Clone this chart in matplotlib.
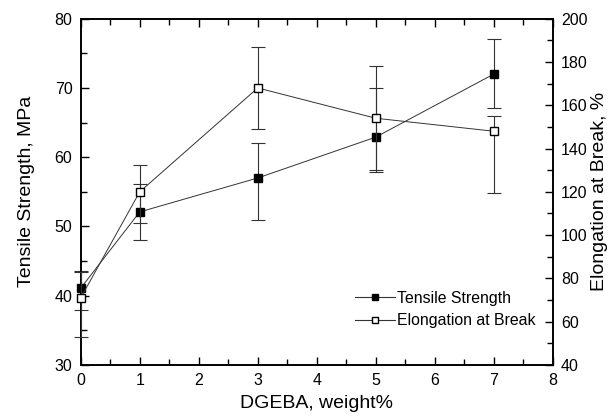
import matplotlib
matplotlib.use('Agg')
from matplotlib import pyplot as plt
from matplotlib.lines import Line2D
from matplotlib.ticker import MultipleLocator

plt.rcParams['font.family'] = ['Liberation Sans', 'DejaVu Sans']

# DGEBA content, weight%
dgeba = [0, 1, 3, 5, 7]

# tensile strength, MPa (left axis)
tensile = [41.1, 52.1, 57.0, 62.9, 72.0]
tensile_lo = [3.1, 4.0, 6.0, 5.0, 4.9]
tensile_hi = [2.4, 4.0, 5.0, 7.1, 5.0]

# elongation at break, % (right axis)
elong = [71, 120, 168, 154, 148]
elong_lo = [18, 14.5, 19, 24, 28.7]
elong_hi = [12, 12.5, 19, 24, 7]

fig = plt.figure(figsize=(6.13, 4.2), dpi=100)
ax = fig.add_axes([0.1317, 0.131, 0.77, 0.8245])
ax2 = ax.twinx()

lc = '#333333'
ax.errorbar(dgeba, tensile, yerr=[tensile_lo, tensile_hi], color=lc, lw=0.7,
            elinewidth=0.8, capsize=5, capthick=0.8, marker='s', ms=6,
            mfc='black', mec='black', clip_on=False, zorder=3)
ax2.errorbar(dgeba, elong, yerr=[elong_lo, elong_hi], color=lc, lw=0.7,
             elinewidth=0.8, capsize=5, capthick=0.8, marker='s', ms=6,
             mfc='white', mec='black', clip_on=False, zorder=3)

ax.set_xlim(0, 8)
ax.set_ylim(30, 80)
ax2.set_ylim(40, 200)
ax.xaxis.set_major_locator(MultipleLocator(1))
ax.xaxis.set_minor_locator(MultipleLocator(0.5))
ax.yaxis.set_major_locator(MultipleLocator(10))
ax.yaxis.set_minor_locator(MultipleLocator(5))
ax2.yaxis.set_major_locator(MultipleLocator(20))
ax2.yaxis.set_minor_locator(MultipleLocator(10))

for a in (ax, ax2):
    a.tick_params(which='both', direction='in', labelsize=11.5, width=1)
    a.tick_params(which='major', length=6, pad=6)
    a.tick_params(which='minor', length=4)
    for s in a.spines.values():
        s.set_linewidth(1.2)
ax.tick_params(which='both', top=True)
ax.tick_params(axis='x', pad=6)

ax.set_xlabel('DGEBA, weight%', fontsize=14, labelpad=5)
ax.set_ylabel('Tensile Strength, MPa', fontsize=14, labelpad=14)
ax2.set_ylabel('Elongation at Break, %', fontsize=14, labelpad=2)

# legend keys: line with square marker, no error bars
handles = [
    Line2D([], [], color=lc, lw=0.8, marker='s', ms=5, mfc='black', mec='black'),
    Line2D([], [], color=lc, lw=0.8, marker='s', ms=5, mfc='white', mec='black'),
]
labels = ['Tensile Strength', 'Elongation at Break']
ax2.legend(handles, labels, loc='upper left', bbox_to_anchor=(0.581, 0.215),
           frameon=False, fontsize=11.4, handlelength=2.5, handletextpad=0.15,
           labelspacing=0.5, borderpad=0, borderaxespad=0)

fig.savefig('out.png', dpi=100)
